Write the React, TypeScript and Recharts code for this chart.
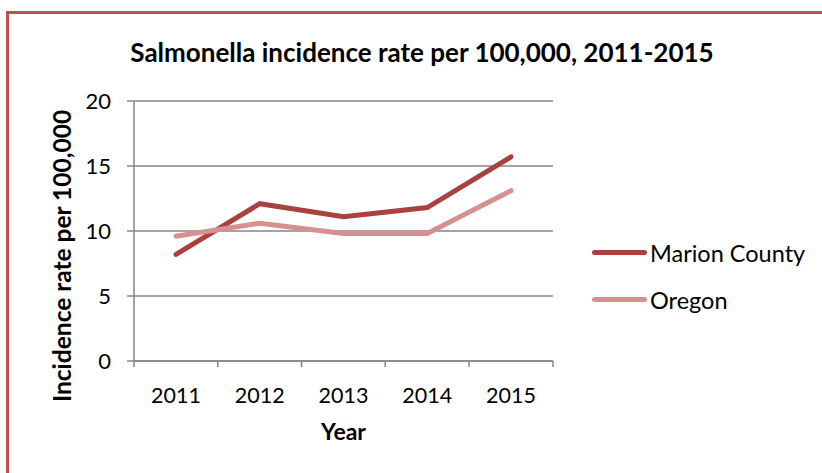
import { LineChart, Line, XAxis, YAxis, CartesianGrid, Legend } from 'recharts';

const years = ['2011', '2012', '2013', '2014', '2015'];
const marionCounty = [8.2, 12.1, 11.1, 11.8, 15.7];
const oregon = [9.6, 10.6, 9.8, 9.8, 13.1];
const yTicks = [0, 5, 10, 15, 20];

const data = years.map((year, i) => ({ year, marion: marionCounty[i], oregon: oregon[i] }));

const FONT = 'Lato, "Open Sans", sans-serif';
const GRID = '#868686';
const BAND = 42;

function YearTick(props: any) {
  const { x, y, payload, index } = props;
  const last = index === years.length - 1;
  return (
    <g>
      <line x1={x - BAND} x2={x - BAND} y1={y - 8} y2={y - 2} stroke={GRID} strokeWidth={1.5} />
      {last && <line x1={x + BAND} x2={x + BAND} y1={y - 8} y2={y - 2} stroke={GRID} strokeWidth={1.5} />}
      <text x={x} y={y + 34} textAnchor="middle" fontSize={21.5} fill="#000" fontFamily={FONT}>{payload.value}</text>
    </g>
  );
}

function LegendBox(props: any) {
  const { payload } = props;
  return (
    <div style={{ fontFamily: FONT }}>
      {payload.map((p: any) => (
        <div key={p.value} style={{ display: 'flex', alignItems: 'center', height: 47 }}>
          <div style={{ width: 55, height: 5, borderRadius: 3, background: p.color, marginRight: 3 }} />
          <span style={{ fontSize: 23.5, color: '#000' }}>{p.value}</span>
        </div>
      ))}
    </div>
  );
}

export default function App() {
  return (
    <div style={{ position: 'absolute', left: 0, top: 0, width: 822, height: 473, background: '#fff', overflow: 'hidden' }}>
      <div style={{ position: 'absolute', left: 6, top: 11, width: 900, height: 600, borderLeft: '3px solid #c0504d', borderTop: '3px solid #c0504d' }} />
      <div style={{ position: 'absolute', left: 0, top: 36, width: 844, textAlign: 'center', fontFamily: FONT, fontWeight: 'bold', fontSize: 26 }}>
        Salmonella incidence rate per 100,000, 2011-2015
      </div>
      <div style={{ position: 'absolute', left: 0, top: 0 }}>
        <LineChart width={822} height={473} data={data} margin={{ top: 101, right: 269, bottom: 52, left: 74 }}>
          <CartesianGrid vertical={false} stroke={GRID} strokeWidth={1.5} />
          <XAxis
            dataKey="year"
            padding={{ left: BAND, right: BAND }}
            stroke={GRID}
            strokeWidth={1.5}
            tickLine={false}
            tick={<YearTick />}
            height={60}
            interval={0}
            label={{
              content: (p: any) => {
                const vb = p.viewBox;
                return (
                  <text x={vb.x + vb.width / 2} y={vb.y + 79} textAnchor="middle" fontSize={23} fontWeight="bold" fill="#000" fontFamily={FONT}>
                    Year
                  </text>
                );
              },
            }}
          />
          <YAxis
            domain={[0, 20]}
            ticks={yTicks}
            width={60}
            stroke={GRID}
            strokeWidth={1.5}
            tickSize={7}
            tickMargin={16}
            tick={{ fontSize: 22, fill: '#000', fontFamily: FONT }}
            label={{
              content: (p: any) => {
                const vb = p.viewBox;
                const cx = vb.x - 3;
                const cy = vb.y + vb.height / 2 + 25;
                return (
                  <text x={cx} y={cy} transform={`rotate(-90 ${cx} ${cy})`} textAnchor="middle" fontSize={24.5} fontWeight="bold" fill="#000" fontFamily={FONT}>
                    Incidence rate per 100,000
                  </text>
                );
              },
            }}
          />
          <Legend layout="horizontal" verticalAlign="middle" align="center" content={<LegendBox />}
            wrapperStyle={{ left: 592, top: 229, width: 230, height: 100 }} />
          <Line dataKey="marion" name="Marion County" stroke="#a9423f" strokeWidth={5} dot={false} isAnimationActive={false} strokeLinecap="round" />
          <Line dataKey="oregon" name="Oregon" stroke="#d6908f" strokeWidth={5} dot={false} isAnimationActive={false} strokeLinecap="round" />
        </LineChart>
      </div>
    </div>
  );
}
